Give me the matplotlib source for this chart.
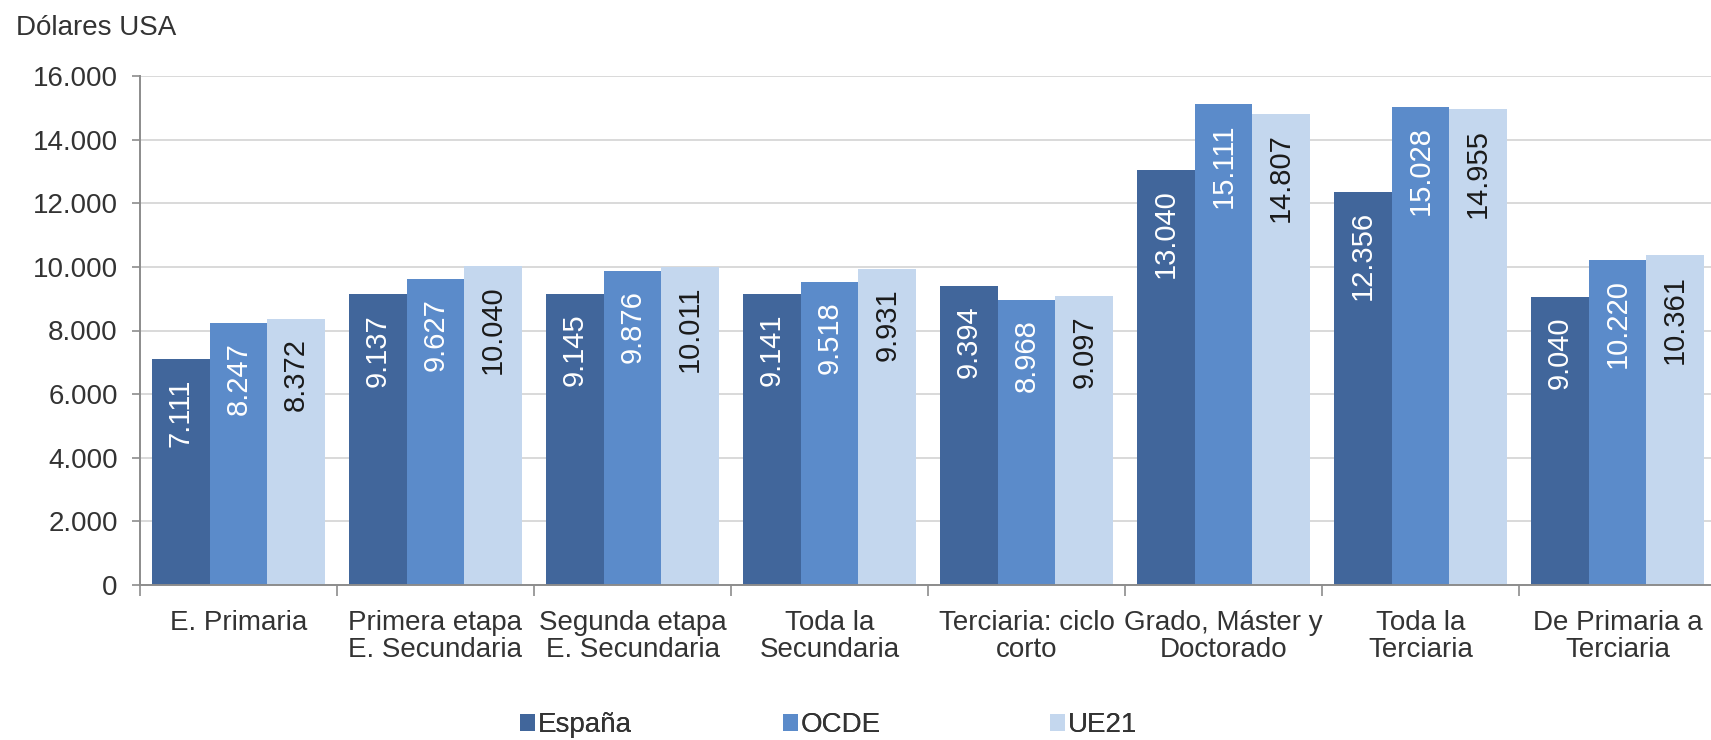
import matplotlib
matplotlib.use("Agg")
import matplotlib.pyplot as plt
from matplotlib.ticker import FuncFormatter, FixedLocator
import numpy as np

categories = ["E. Primaria", "Primera etapa\nE. Secundaria", "Segunda etapa\nE. Secundaria",
              "Toda la\nSecundaria", "Terciaria: ciclo\ncorto", "Grado, Máster y\nDoctorado",
              "Toda la\nTerciaria", "De Primaria a\nTerciaria"]
espana = [7111, 9137, 9145, 9141, 9394, 13040, 12356, 9040]
ocde = [8247, 9627, 9876, 9518, 8968, 15111, 15028, 10220]
ue21 = [8372, 10040, 10011, 9931, 9097, 14807, 14955, 10361]
series_names = ["España", "OCDE", "UE21"]
y_ticks = [0, 2000, 4000, 6000, 8000, 10000, 12000, 14000, 16000]

colors = ["#41669B", "#5B8BCA", "#C4D7EE"]
label_colors = ["white", "white", "#1a1a1a"]

plt.rcParams['font.family'] = ['Liberation Sans', 'DejaVu Sans']
W, H = 1711, 740
fig = plt.figure(figsize=(W / 100, H / 100), dpi=100)
ax = fig.add_axes([140 / W, 155 / H, 1576 / W, 509 / H])

x = np.arange(len(categories))
bw = 0.293
text_col = "#333333"

bars_all = []
for k, (vals, name) in enumerate(zip([espana, ocde, ue21], series_names)):
    bars = ax.bar(x + (k - 1) * bw, vals, width=bw, color=colors[k], label=name, zorder=2)
    bars_all.append(bars)
    for b, v in zip(bars, vals):
        ax.annotate(f"{v:,}".replace(",", "."),
                    xy=(b.get_x() + b.get_width() / 2, v),
                    xytext=(0, -14), textcoords="offset points",
                    rotation=90, ha="center", va="top",
                    fontsize=21, color=label_colors[k], zorder=3)

ax.set_xlim(-0.5, 7.5)
ax.set_ylim(0, 16000)
ax.set_yticks(y_ticks)
ax.yaxis.set_major_formatter(FuncFormatter(lambda v, p: f"{int(v):,}".replace(",", ".")))
ax.tick_params(axis="y", labelsize=20, colors="#8c8c8c", labelcolor=text_col,
               length=6, width=1.2, pad=10)
ax.grid(axis="y", color="#D9D9D9", linewidth=1.4, zorder=0)
ax.set_axisbelow(True)

# category boundaries as major ticks, labels at centers as minor ticks
ax.xaxis.set_major_locator(FixedLocator(np.arange(-0.5, 8.0, 1.0)))
ax.xaxis.set_major_formatter(FuncFormatter(lambda v, p: ""))
ax.set_xticks(x, minor=True)
ax.set_xticklabels(categories, minor=True, fontsize=20, color=text_col, linespacing=1.05)
ax.tick_params(axis="x", which="major", length=8, width=1.2, colors="#8c8c8c")
ax.tick_params(axis="x", which="minor", length=0, pad=18)

for s in ["top", "right"]:
    ax.spines[s].set_visible(False)
for s in ["left", "bottom"]:
    ax.spines[s].set_color("#8c8c8c")
    ax.spines[s].set_linewidth(1.4)

fig.text(16 / W, 1 - 35 / H, "Dólares USA", fontsize=20, color=text_col,
         ha="left", va="baseline")

# legend: one entry per position
leg_x = [520, 783, 1050]
for k in range(3):
    lg = fig.legend(handles=[bars_all[k]], labels=[series_names[k]],
                    loc="center left", bbox_to_anchor=(leg_x[k] / W, 1 - 725 / H),
                    frameon=False, fontsize=20, handlelength=0.55, handleheight=0.55,
                    handletextpad=0.1, borderpad=0, borderaxespad=0)
    for t in lg.get_texts():
        t.set_color(text_col)
    fig.add_artist(lg)

fig.savefig("out.png", dpi=100)
